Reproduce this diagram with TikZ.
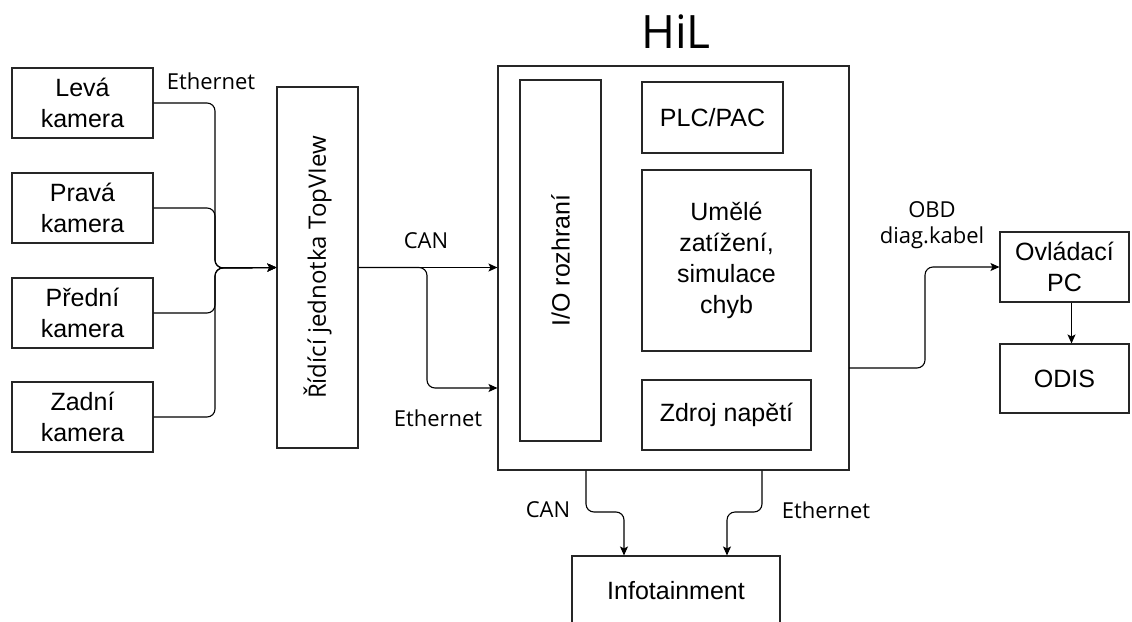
\documentclass[tikz,border=0pt]{standalone}
\usepackage{fontspec}
\setmainfont{Liberation Sans}
\newfontfamily\labfont{Open Sans}
\usetikzlibrary{arrows.meta}
\begin{document}
\begin{tikzpicture}[x=1pt,y=-1pt,
  box/.style={draw=black!85,line width=1.1pt,rectangle,inner sep=0pt,align=center,
    font={\fontsize{25}{31}\selectfont}},
  lab/.style={inner sep=0pt,align=center,font={\labfont\fontsize{22}{26}\selectfont}},
  conn/.style={line width=1.1pt,draw=black,rounded corners=8pt},
  arr/.style={conn,-{Stealth[length=9pt,width=8pt,inset=2pt]}}]
\clip (0,0) rectangle (1132,621);
\fill[white] (0,0) rectangle (1132,621);
% cameras
\node[box,minimum width=141,minimum height=70] (lk) at (82.5,103) {Levá\\kamera};
\node[box,minimum width=141,minimum height=70] (pk) at (82.5,208) {Pravá\\kamera};
\node[box,minimum width=141,minimum height=70] (prk) at (82.5,313) {Přední\\kamera};
\node[box,minimum width=141,minimum height=70] (zk) at (82.5,417) {Zadní\\kamera};
% TopView
\node[box,minimum width=81,minimum height=361] (tv) at (317.5,267.5) {};
\node[rotate=90,inner sep=0pt,font={\labfont\fontsize{24}{28}\selectfont}] (tvt) at (tv.center) {Řídící jednotka TopVIew};
% HiL
\node[box,minimum width=351,minimum height=404] (hil) at (673.5,268) {};
\node[inner sep=0pt,font={\labfont\fontsize{46}{50}\selectfont}] (hilt) at (676,32) {HiL};
\node[box,minimum width=81,minimum height=361] (io) at (560.5,260.5) {};
\node[rotate=90,inner sep=0pt,font={\fontsize{25}{28}\selectfont}] (iot) at (io.center) {I/O rozhraní};
\node[box,minimum width=141,minimum height=71] (plc) at (712.5,117.5) {PLC/PAC};
\node[box,minimum width=169,minimum height=181] (um) at (726.5,260.5) {Umělé\\zatížení,\\simulace\\chyb};
\node[box,minimum width=169,minimum height=70] (zd) at (726.5,415) {Zdroj napětí};
% right
\node[box,minimum width=129,minimum height=70] (pc) at (1064.5,267) {Ovládací\\PC};
\node[box,minimum width=129,minimum height=69] (odis) at (1064.5,378.5) {ODIS};
% infotainment
\node[box,minimum width=208,minimum height=70] (info) at (676,591) {Infotainment};
% camera connectors
\coordinate (mx) at (215,268);
\draw[arr] (lk.east) -| (mx) -- (tv.west);
\draw[arr] (pk.east) -| (mx) -- (tv.west);
\draw[arr] (prk.east) -| (mx) -- (tv.west);
\draw[arr] (zk.east) -| (mx) -- (tv.west);
% TopView to HiL
\coordinate (br) at (427,388);
\draw[arr] (tv.east) -- (tv.east -| hil.west);
\draw[arr] (tv.east) -| (br) -- (br -| hil.west);
% OBD
\coordinate (obs) at (849,368);
\coordinate (obt) at (925,267);
\draw[arr] (obs) -| (obt) -- (pc.west);
\draw[arr] ([xshift=7pt]pc.south) -- ([xshift=7pt]odis.north);
% bottom
\coordinate (ca) at (586,512);
\coordinate (cb) at (624,512);
\coordinate (ea) at (762,512);
\coordinate (eb) at (727,512);
\draw[arr] (ca |- hil.south) -- (ca) -- (cb) -- (cb |- info.north);
\draw[arr] (ea |- hil.south) -- (ea) -- (eb) -- (eb |- info.north);
% labels
\node[lab] (l1) at (211,81) {Ethernet};
\node[lab] (l2) at (426,241) {CAN};
\node[lab] (l3) at (438,418) {Ethernet};
\node[lab] (l4) at (548,510) {CAN};
\node[lab] (l5) at (826,510) {Ethernet};
\node[lab] (l6) at (932,225) {OBD\\diag.kabel};
\end{tikzpicture}
\end{document}
